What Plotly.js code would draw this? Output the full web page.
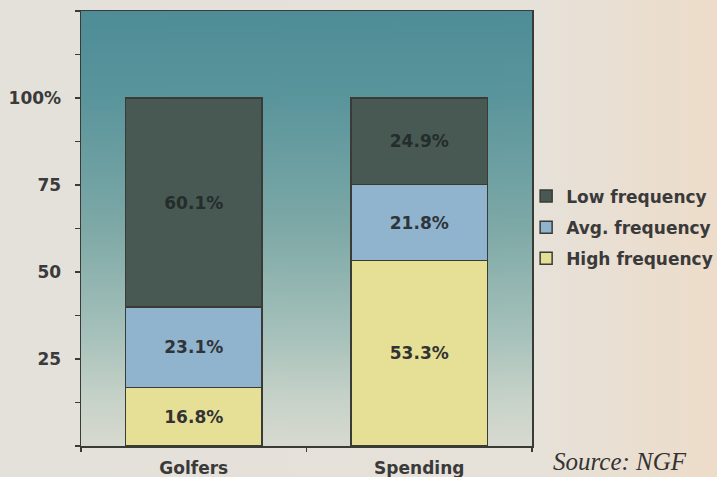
<!DOCTYPE html>
<html>
<head>
<meta charset="utf-8">
<script src="https://cdn.plot.ly/plotly-3.0.1.min.js"></script>
<style>
  html, body { margin: 0; padding: 0; }
  body { width: 717px; height: 477px; background: linear-gradient(to right, #e4e1da 0%, #e6e1d9 75%, #eddcc9 100%); }
  #chart { width: 717px; height: 477px; }
</style>
</head>
<body>
<div id="chart"></div>
<script>
// ---- data ----
const categories = ['Golfers', 'Spending'];
const highFreq = [16.8, 53.3];
const avgFreq = [23.1, 21.8];
const lowFreq = [60.1, 24.9];
const seriesNames = ['High frequency', 'Avg. frequency', 'Low frequency'];
const legendRanks = [3, 2, 1];
const yTickVals = [0, 12.5, 25, 37.5, 50, 62.5, 75, 87.5, 100, 112.5, 125];
const yTickText = ['', '', '25', '', '50', '', '75', '', '100%', '', ''];
const sourceText = 'Source: NGF';

// ---- gradient background image for the plot area ----
function gradientURL() {
  const c = document.createElement('canvas');
  c.width = 8; c.height = 440;
  const g = c.getContext('2d');
  const grd = g.createLinearGradient(0, 0, 0, 440);
  grd.addColorStop(0.00, '#4e8d97');
  grd.addColorStop(0.20, '#5a959c');
  grd.addColorStop(0.50, '#7ea9a7');
  grd.addColorStop(0.75, '#a7c2bb');
  grd.addColorStop(0.90, '#c8d3c9');
  grd.addColorStop(1.00, '#d8dad0');
  g.fillStyle = grd;
  g.fillRect(0, 0, 8, 440);
  return c.toDataURL('image/png');
}

const F = 'DejaVu Sans, Verdana, sans-serif';
const lineCol = '#3a3a36';
const fmt = v => v.toFixed(1) + '%';

function barTrace(vals, i, color, txtColor) {
  return {
    type: 'bar', x: categories, y: vals, name: seriesNames[i], legendgroup: seriesNames[i],
    legendrank: legendRanks[i],
    width: 0.607,
    marker: { color: color, line: { color: lineCol, width: 1.5 } },
    text: vals.map(fmt), textposition: 'inside', insidetextanchor: 'middle',
    textfont: { family: F, size: 17, weight: 'bold', color: txtColor },
    hoverinfo: 'skip'
  };
}

const data = [
  barTrace(highFreq, 0, '#e6e096', '#333333'),
  barTrace(avgFreq, 1, '#90b3ce', '#2f3438'),
  barTrace(lowFreq, 2, '#485853', '#232d2c')
];

const layout = {
  width: 717, height: 477,
  margin: { l: 81, r: 185, t: 11, b: 31, autoexpand: false },
  paper_bgcolor: 'rgba(0,0,0,0)',
  plot_bgcolor: 'rgba(0,0,0,0)',
  barmode: 'stack',
  font: { family: F, size: 17, color: '#3a3a3a', weight: 'bold' },
  showlegend: true,
  legend: {
    x: 0.987, xanchor: 'left', y: 0.615, yanchor: 'top',
    bgcolor: 'rgba(0,0,0,0)',
    font: { family: F, size: 17, color: '#3a3a3a', weight: 'bold' },
    itemwidth: 30, traceorder: 'grouped', tracegroupgap: 6
  },
  xaxis: {
    range: [-0.5, 1.5], fixedrange: true,
    showline: true, linecolor: lineCol, linewidth: 1.5, mirror: true,
    ticks: 'outside', tickson: 'boundaries', ticklen: 4, tickcolor: lineCol, tickwidth: 1.5,
    ticklabelstandoff: 6,
    tickfont: { family: F, size: 17, color: '#3a3a3a', weight: 'bold' },
    showgrid: false, zeroline: false
  },
  yaxis: {
    range: [0, 125], fixedrange: true,
    tickmode: 'array', tickvals: yTickVals, ticktext: yTickText,
    showline: true, linecolor: lineCol, linewidth: 1.5, mirror: true,
    ticks: 'outside', ticklen: 5, tickcolor: lineCol, tickwidth: 1.5,
    ticklabelstandoff: 10,
    tickfont: { family: F, size: 17, color: '#3a3a3a', weight: 'bold' },
    showgrid: false, zeroline: false
  },
  images: [{
    source: gradientURL(), xref: 'paper', yref: 'paper',
    x: 0, y: 1, sizex: 1, sizey: 1, sizing: 'stretch', layer: 'below'
  }],
  annotations: [{
    text: sourceText, xref: 'paper', yref: 'paper',
    x: 1.042, xanchor: 'left', y: -0.0713, yanchor: 'bottom', showarrow: false,
    font: { family: 'Liberation Serif, Times New Roman, serif', size: 25, style: 'italic', weight: 'normal', color: '#333333' }
  }]
};

Plotly.newPlot('chart', data, layout, { displayModeBar: false, staticPlot: true });
</script>
</body>
</html>
